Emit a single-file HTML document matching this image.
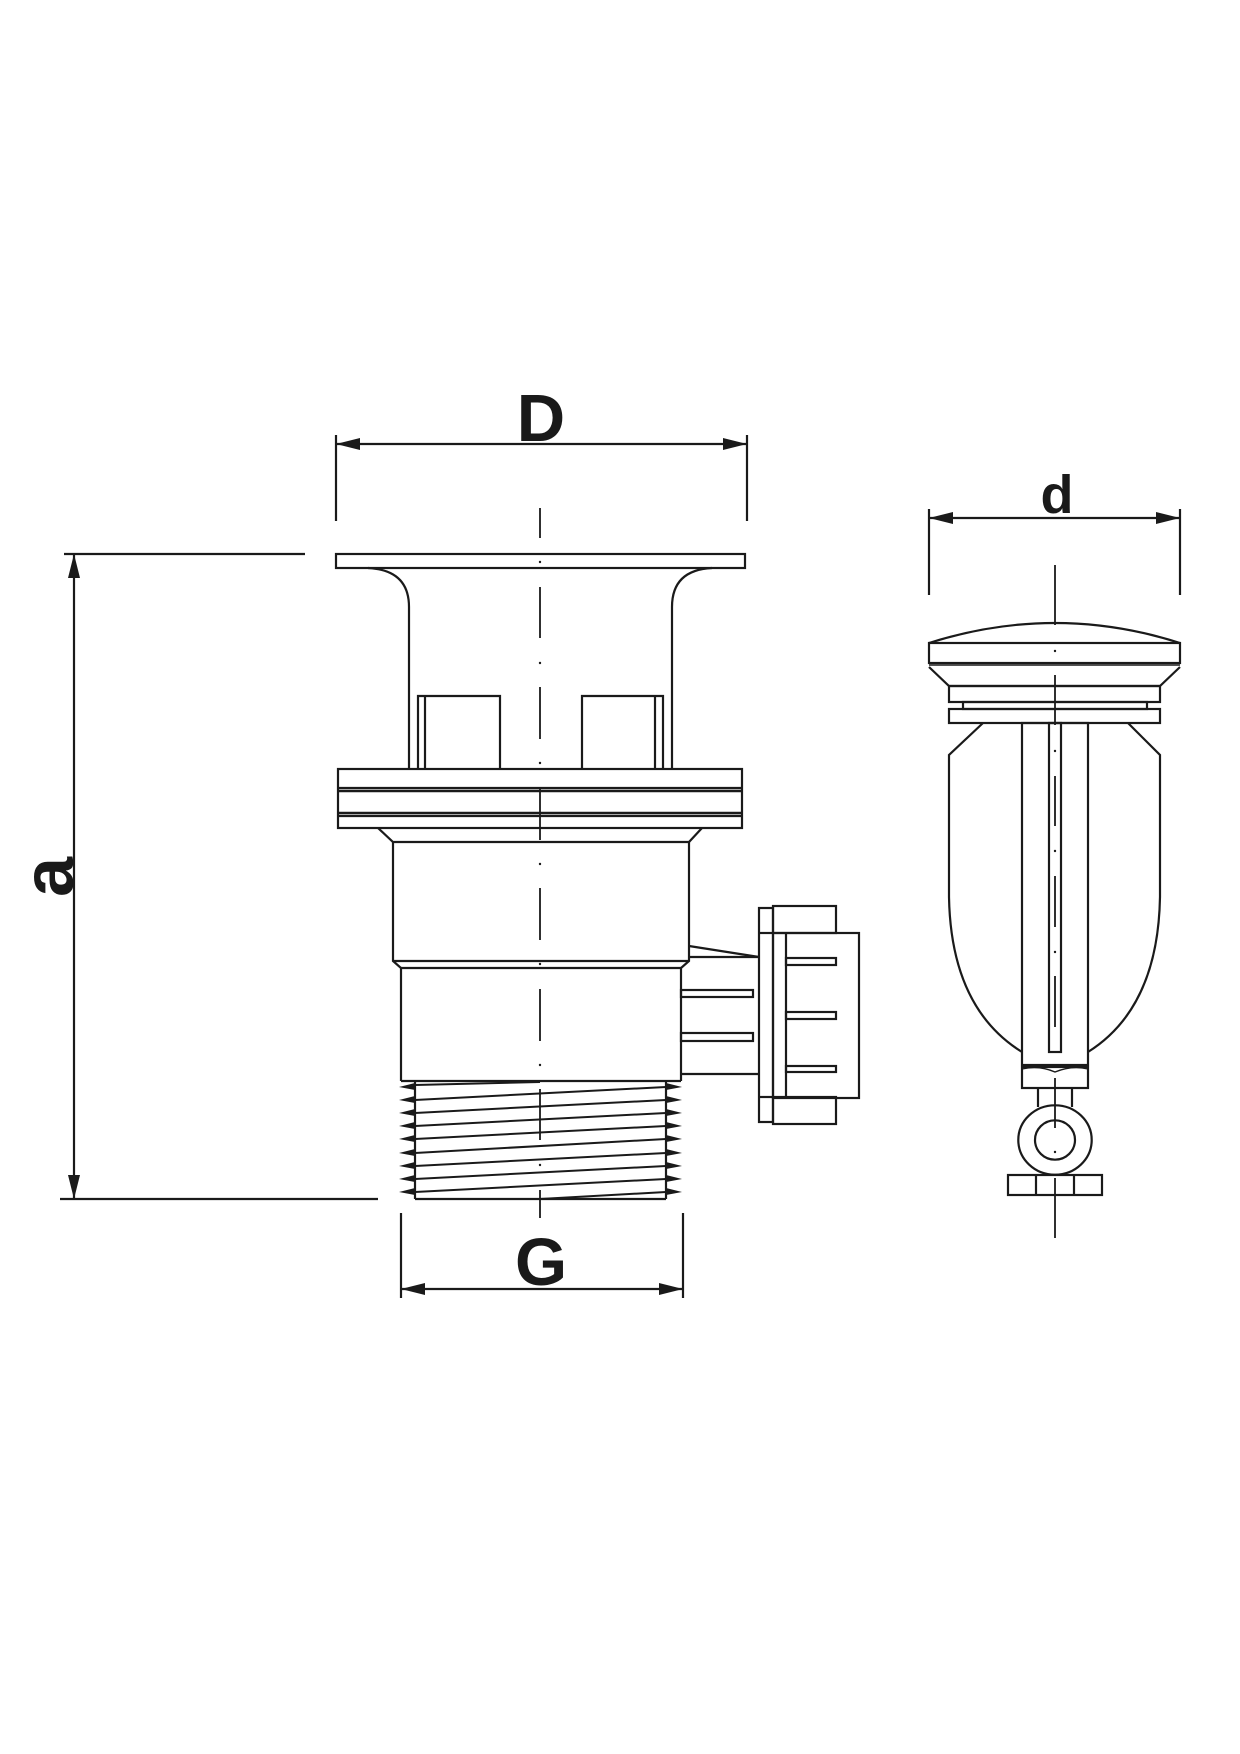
<!DOCTYPE html>
<html><head><meta charset="utf-8"><style>html,body{margin:0;padding:0;background:#fff}svg{display:block}</style></head>
<body>
<svg width="1240" height="1754" viewBox="0 0 1240 1754" xmlns="http://www.w3.org/2000/svg">
<rect width="1240" height="1754" fill="#fff"/>
<g fill="none" stroke="#1a1a1a" stroke-width="2.2" stroke-linejoin="miter">
<!-- D dimension -->
<line x1="336" y1="435" x2="336" y2="521"/>
<line x1="747" y1="435" x2="747" y2="521"/>
<line x1="336" y1="444" x2="747" y2="444"/>
<!-- a dimension -->
<line x1="74" y1="554" x2="74" y2="1199"/>
<line x1="64" y1="554" x2="305" y2="554"/>
<line x1="60" y1="1199" x2="378" y2="1199"/>
<!-- G dimension -->
<line x1="401" y1="1213" x2="401" y2="1298"/>
<line x1="683" y1="1213" x2="683" y2="1298"/>
<line x1="401" y1="1289" x2="683" y2="1289"/>
<!-- top flange -->
<rect x="336" y="554" width="409" height="14"/>
<path d="M368 568 Q409 570 409 607 L409 769"/>
<path d="M712 568 Q672 570 672 607 L672 769"/>
<!-- tabs -->
<path d="M418 769 V696 H500 V769"/><line x1="425" y1="696" x2="425" y2="769"/>
<path d="M582 769 V696 H663 V769"/><line x1="655" y1="696" x2="655" y2="769"/>
<!-- lower flange -->
<rect x="338" y="769" width="404" height="59"/>
<line x1="338" y1="788" x2="742" y2="788"/><line x1="338" y1="791" x2="742" y2="791" stroke-width="2.6"/>
<line x1="338" y1="813" x2="742" y2="813" stroke-width="2.6"/><line x1="338" y1="816" x2="742" y2="816"/>
<path d="M378 828 L393 842 H689 L702 828"/>
<!-- upper body -->
<path d="M393 842 V961 L401 968 V1081"/>
<path d="M689 842 V961 L681 968 V1081"/>
<line x1="393" y1="961" x2="689" y2="961"/>
<line x1="401" y1="968" x2="681" y2="968"/>
<line x1="401" y1="1081" x2="681" y2="1081"/>
<!-- outlet -->
<line x1="689" y1="946" x2="759" y2="957"/>
<line x1="689" y1="957" x2="759" y2="957"/>
<line x1="681" y1="1074" x2="759" y2="1074"/>
<rect x="681" y="990" width="72" height="7"/>
<rect x="681" y="1033" width="72" height="8"/>
<rect x="759" y="908" width="14" height="214"/>
<line x1="759" y1="933" x2="773" y2="933"/><line x1="759" y1="1097" x2="773" y2="1097"/>
<rect x="773" y="906" width="63" height="27"/>
<rect x="773" y="1097" width="63" height="27"/>
<rect x="773" y="933" width="86" height="165"/>
<line x1="786" y1="933" x2="786" y2="1098"/>
<rect x="786" y="958" width="50" height="7"/>
<rect x="786" y="1012" width="50" height="7"/>
<rect x="786" y="1066" width="50" height="6"/>
<!-- thread -->
<line x1="415" y1="1081" x2="415" y2="1199"/>
<line x1="666" y1="1081" x2="666" y2="1199"/>
<line x1="415" y1="1199" x2="666" y2="1199"/>
<g stroke-width="2">
<line x1="415" y1="1085" x2="540" y2="1082"/>
<line x1="415" y1="1100" x2="666" y2="1087"/>
<line x1="415" y1="1113" x2="666" y2="1100"/>
<line x1="415" y1="1126" x2="666" y2="1113"/>
<line x1="415" y1="1139" x2="666" y2="1126"/>
<line x1="415" y1="1153" x2="666" y2="1139"/>
<line x1="415" y1="1166" x2="666" y2="1153"/>
<line x1="415" y1="1179" x2="666" y2="1166"/>
<line x1="415" y1="1192" x2="666" y2="1179"/>
<line x1="540" y1="1199" x2="666" y2="1192"/>
</g>
</g>
<g fill="#1a1a1a">
<polygon points="336,444 360,438 360,450"/>
<polygon points="747,444 723,438 723,450"/>
<polygon points="74,554 68,578 80,578"/>
<polygon points="74,1199 68,1175 80,1175"/>
<polygon points="401,1289 425,1283 425,1295"/>
<polygon points="683,1289 659,1283 659,1295"/>
<polygon points="929,518 953,512 953,524"/>
<polygon points="1180,518 1156,512 1156,524"/>
<g>
<polygon points="399,1087 415,1083 415,1090"/><polygon points="399,1100 415,1096 415,1103"/><polygon points="399,1113 415,1109 415,1116"/><polygon points="399,1126 415,1122 415,1129"/><polygon points="399,1139 415,1135 415,1142"/><polygon points="399,1153 415,1149 415,1156"/><polygon points="399,1166 415,1162 415,1169"/><polygon points="399,1179 415,1175 415,1182"/><polygon points="399,1192 415,1188 415,1195"/>
<polygon points="682,1087 666,1083 666,1090"/><polygon points="682,1100 666,1096 666,1103"/><polygon points="682,1113 666,1109 666,1116"/><polygon points="682,1126 666,1122 666,1129"/><polygon points="682,1139 666,1135 666,1142"/><polygon points="682,1153 666,1149 666,1156"/><polygon points="682,1166 666,1162 666,1169"/><polygon points="682,1179 666,1175 666,1182"/><polygon points="682,1192 666,1188 666,1195"/>
</g>
<circle cx="540" cy="562" r="1.2"/><circle cx="540" cy="663" r="1.2"/><circle cx="540" cy="763" r="1.2"/>
<circle cx="540" cy="864" r="1.2"/><circle cx="540" cy="964" r="1.2"/><circle cx="540" cy="1065" r="1.2"/><circle cx="540" cy="1165" r="1.2"/>
<circle cx="1055" cy="651" r="1.2"/><circle cx="1055" cy="751" r="1.2"/><circle cx="1055" cy="851" r="1.2"/><circle cx="1055" cy="952" r="1.2"/><circle cx="1055" cy="1152" r="1.2"/>
</g>
<g stroke="#1a1a1a" stroke-width="1.8">
<line x1="540" y1="508" x2="540" y2="538"/>
<line x1="540" y1="587" x2="540" y2="638"/>
<line x1="540" y1="687" x2="540" y2="739"/>
<line x1="540" y1="788" x2="540" y2="840"/>
<line x1="540" y1="888" x2="540" y2="940"/>
<line x1="540" y1="989" x2="540" y2="1041"/>
<line x1="540" y1="1089" x2="540" y2="1140"/>
<line x1="540" y1="1190" x2="540" y2="1218"/>
</g>
<!-- right view -->
<g fill="none" stroke="#1a1a1a" stroke-width="2.2">
<line x1="929" y1="509" x2="929" y2="595"/>
<line x1="1180" y1="509" x2="1180" y2="595"/>
<line x1="929" y1="518" x2="1180" y2="518"/>
<path d="M929 643 Q1055 603 1180 643"/>
<rect x="929" y="643" width="251" height="20"/>
<line x1="929" y1="665" x2="1180" y2="665" stroke-width="1.4"/>
<path d="M929 667 L949 686 H1160 L1180 667"/>
<rect x="949" y="686" width="211" height="16"/>
<rect x="963" y="702" width="184" height="7"/>
<rect x="949" y="709" width="211" height="14"/>
<path d="M983 723 L949 755 V897 Q951 1008 1022 1052"/>
<path d="M1128 723 L1160 755 V897 Q1158 1008 1088 1052"/>
<rect x="1022" y="723" width="66" height="342"/>
<rect x="1049" y="723" width="12" height="329"/>
<rect x="1022" y="1067" width="66" height="21"/>
<path d="M1022 1069 Q1039 1065 1055 1072 Q1072 1065 1088 1069" stroke-width="1.4"/>
<line x1="1038" y1="1088" x2="1038" y2="1107"/>
<line x1="1072" y1="1088" x2="1072" y2="1107"/>
<ellipse cx="1055" cy="1140" rx="36.7" ry="34.7"/>
<ellipse cx="1055" cy="1140" rx="20" ry="19.7"/>
<rect x="1008" y="1175" width="94" height="20" fill="#fff"/>
<line x1="1036" y1="1175" x2="1036" y2="1195"/>
<line x1="1074" y1="1175" x2="1074" y2="1195"/>
</g>
<g stroke="#1a1a1a" stroke-width="1.8">
<line x1="1055" y1="565" x2="1055" y2="625"/>
<line x1="1055" y1="675" x2="1055" y2="725"/>
<line x1="1055" y1="776" x2="1055" y2="826"/>
<line x1="1055" y1="876" x2="1055" y2="927"/>
<line x1="1055" y1="976" x2="1055" y2="1027"/>
<line x1="1055" y1="1078" x2="1055" y2="1128"/>
<line x1="1055" y1="1178" x2="1055" y2="1238"/>
</g>
<g font-family="Liberation Sans, sans-serif" font-weight="bold" fill="#1a1a1a" text-anchor="middle">
<text x="541" y="441" font-size="67">D</text>
<text x="1057" y="513" font-size="54">d</text>
<text x="541" y="1285" font-size="67">G</text>
<text x="0" y="0" font-size="72" transform="translate(73,877) rotate(-90)">a</text>
</g>
</svg>
</body></html>
